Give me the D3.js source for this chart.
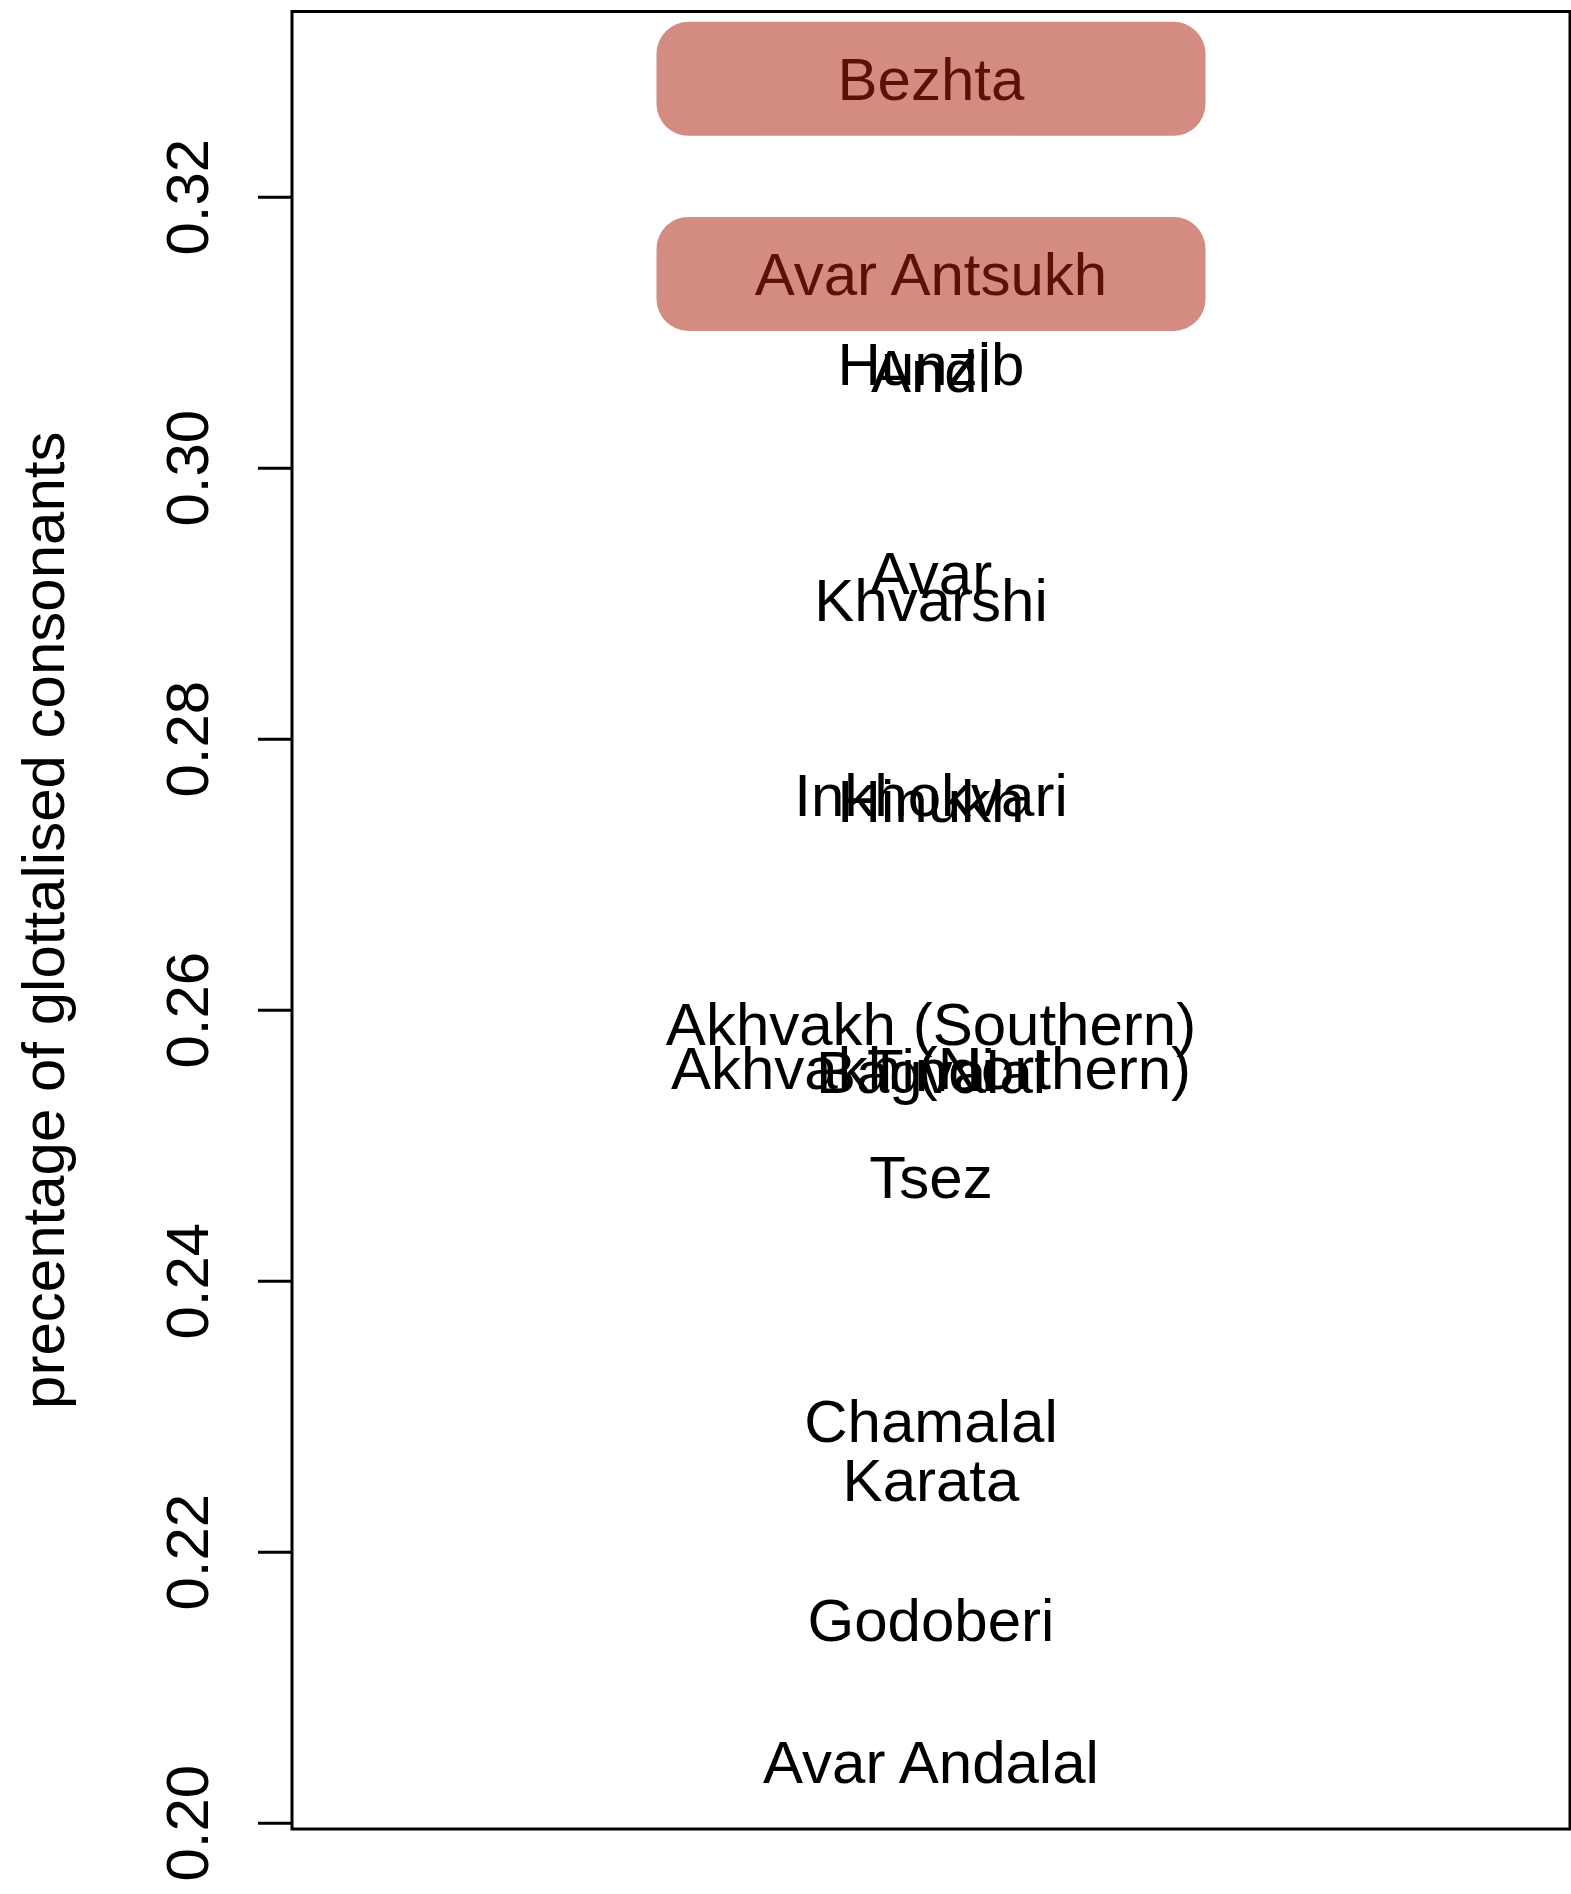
<!DOCTYPE html>
<html>
<head>
<meta charset="utf-8">
<script src="https://cdn.jsdelivr.net/npm/d3@7"></script>
<style>
  html, body { margin: 0; padding: 0; background: #ffffff; }
  svg { display: block; }
  text { font-family: "Liberation Sans", Arial, Helvetica, sans-serif; }
</style>
</head>
<body>
<svg id="chart" width="1571" height="1894"></svg>
<script>
// ---- data ----
const languages = [
  "Bezhta", "Avar Antsukh", "Hunzib", "Andi", "Avar", "Khvarshi",
  "Inkhokvari", "Hinukh", "Akhvakh (Southern)", "Akhvakh (Northern)",
  "Tindi", "Bagvalal", "Tsez", "Chamalal", "Karata", "Godoberi", "Avar Andalal"
];
const values = [
  0.3287, 0.3143, 0.3077, 0.3072, 0.2923, 0.2903,
  0.2759, 0.2754, 0.2590, 0.2557,
  0.2556, 0.2554, 0.2477, 0.2297, 0.2253, 0.2150, 0.2045
];
const highlighted = ["Bezhta", "Avar Antsukh"];
const yTicks = [0.20, 0.22, 0.24, 0.26, 0.28, 0.30, 0.32];
const yTickLabels = ["0.20", "0.22", "0.24", "0.26", "0.28", "0.30", "0.32"];
const yTitle = "precentage of glottalised consonants";

// ---- layout ----
const svg = d3.select("#chart");
const plot = { left: 292, right: 1570, top: 11.5, bottom: 1829 };
const fontSize = 60;

// R-style 4% range extension
const ext = d3.extent(values);
const pad = (ext[1] - ext[0]) * 0.04;
const y = d3.scaleLinear()
  .domain([ext[0] - pad, ext[1] + pad])
  .range([plot.bottom, plot.top]);
const xc = (plot.left + plot.right) / 2;

const data = languages.map((l, i) => ({ lang: l, value: values[i], hi: highlighted.includes(l) }));

// highlight boxes
const boxW = 549, boxH = 114;
svg.append("g").selectAll("rect")
  .data(data.filter(d => d.hi))
  .join("rect")
  .attr("x", xc - boxW / 2)
  .attr("y", d => y(d.value) - boxH / 2)
  .attr("width", boxW)
  .attr("height", boxH)
  .attr("rx", 32).attr("ry", 32)
  .attr("fill", "#d48c82");

// labels
svg.append("g").selectAll("text")
  .data(data)
  .join("text")
  .attr("x", xc)
  .attr("y", d => y(d.value))
  .attr("dy", "0.358em")
  .attr("text-anchor", "middle")
  .attr("font-size", fontSize)
  .attr("fill", d => d.hi ? "#5c1006" : "#000000")
  .text(d => d.lang);

// plot frame
svg.append("rect")
  .attr("x", plot.left).attr("y", plot.top)
  .attr("width", plot.right - plot.left)
  .attr("height", plot.bottom - plot.top)
  .attr("fill", "none")
  .attr("stroke", "#000")
  .attr("stroke-width", 3);

// y axis
const axis = d3.axisLeft(y)
  .tickValues(yTicks)
  .tickFormat((d, i) => yTickLabels[i])
  .tickSize(34)
  .tickPadding(0);
const gAxis = svg.append("g")
  .attr("transform", `translate(${plot.left},0)`)
  .call(axis);
gAxis.select(".domain").remove();
gAxis.selectAll(".tick line").attr("stroke", "#000").attr("stroke-width", 3);
gAxis.selectAll(".tick text")
  .attr("font-size", fontSize)
  .attr("font-family", "Liberation Sans, Arial, Helvetica, sans-serif")
  .attr("fill", "#000")
  .attr("text-anchor", "middle")
  .attr("x", null).attr("dy", null)
  .attr("transform", `translate(${208 - plot.left},0) rotate(-90)`);

// y title
svg.append("text")
  .attr("transform", `translate(64,${(plot.top + plot.bottom) / 2}) rotate(-90)`)
  .attr("text-anchor", "middle")
  .attr("font-size", fontSize)
  .attr("fill", "#000")
  .text(yTitle);
</script>
</body>
</html>
